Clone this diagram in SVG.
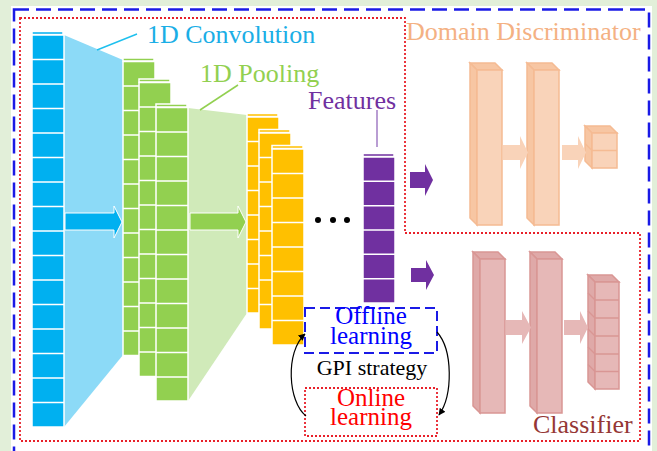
<svg xmlns="http://www.w3.org/2000/svg" width="657" height="451" viewBox="0 0 657 451">
<defs>
<style>
.lbl{font-family:"Liberation Serif","Times New Roman",serif;font-size:26px;font-variant-ligatures:none}
.lbl2{font-family:"Liberation Serif","Times New Roman",serif;font-size:25px;font-variant-ligatures:none}
.grid{stroke:#ffffff;stroke-width:1.6;fill:none}
.col{stroke:#ffffff;stroke-width:1.5}
.blue{fill:#00b0f0}
.green{fill:#92d050}
.orange{fill:#ffc000}
.purple{fill:#7030a0}
.peach{fill:#f9d3b9;stroke:#f5bb93;stroke-width:1.5}
.peach2{fill:#f7c6a3;stroke:#f5bb93;stroke-width:1.5}
.pink{fill:#e6b8b7;stroke:#d99694;stroke-width:1.5}
.pink2{fill:#dfa9a8;stroke:#d99694;stroke-width:1.5}
.reddot{fill:none;stroke:#e8202a;stroke-width:1.8;stroke-dasharray:2 2}
.curve{fill:none;stroke:#000;stroke-width:1.2}
</style>
<marker id="ah" viewBox="0 0 10 10" refX="9" refY="5" markerWidth="7" markerHeight="7" orient="auto" markerUnits="userSpaceOnUse">
<path d="M0,0 L10,5 L0,10 z" fill="#000"/>
</marker>
</defs>

<rect x="0" y="0" width="657" height="451" fill="#e2efd9"/>
<rect x="11" y="6" width="641" height="460" fill="#ffffff"/>
<rect id="outer-frame" x="14" y="9.5" width="635" height="460" fill="none" stroke="#1a1ae6" stroke-width="2.5" stroke-dasharray="15 7"/>
<path id="feature-region" class="reddot" d="M20,18 H405 V233 H640 V441 H20 Z"/>

<polygon id="conv-trap" points="64,35 123,60 123,355 64,427" fill="#8cdaf7"/>
<polygon id="pool-trap" points="188,108 247,115 247,313 188,401" fill="#d0eab9"/>

<g id="input-column">
<rect class="blue col" x="32" y="31.5" width="31" height="3"/>
<rect class="blue col" x="32" y="35" width="32" height="392"/>
<path class="grid" d="M32,59.5h32M32,84h32M32,108.5h32M32,133h32M32,157.5h32M32,182h32M32,206.5h32M32,231h32M32,255.5h32M32,280h32M32,304.5h32M32,329h32M32,353.5h32M32,378h32M32,402.5h32"/>
</g>

<g id="conv-maps">
<rect class="green col" x="123" y="58" width="31" height="3"/>
<rect class="green col" x="123" y="61.5" width="32" height="294"/>
<path class="grid" d="M123,86h32M123,110.5h32M123,135h32M123,159.5h32M123,184h32M123,208.5h32M123,233h32M123,257.5h32M123,282h32M123,306.5h32M123,331h32"/>
<rect class="green col" x="139" y="79" width="31" height="3"/>
<rect class="green col" x="139" y="82.5" width="32" height="294"/>
<path class="grid" d="M139,107h32M139,131.5h32M139,156h32M139,180.5h32M139,205h32M139,229.5h32M139,254h32M139,278.5h32M139,303h32M139,327.5h32M139,352h32"/>
<rect class="green col" x="156" y="104" width="31" height="3"/>
<rect class="green col" x="156" y="107.5" width="32" height="293.5"/>
<path class="grid" d="M156,132h32M156,156.5h32M156,181h32M156,205.5h32M156,230h32M156,254.5h32M156,279h32M156,303.5h32M156,328h32M156,352.5h32M156,377h32"/>
</g>

<g id="pool-maps">
<rect class="orange col" x="247" y="113.5" width="31" height="3"/>
<rect class="orange col" x="247" y="117" width="32" height="196"/>
<path class="grid" d="M247,141.5h32M247,166h32M247,190.5h32M247,215h32M247,239.5h32M247,264h32M247,288.5h32"/>
<rect class="orange col" x="259" y="129.5" width="31" height="3"/>
<rect class="orange col" x="259" y="133" width="32" height="196"/>
<path class="grid" d="M259,157.5h32M259,182h32M259,206.5h32M259,231h32M259,255.5h32M259,280h32M259,304.5h32"/>
<rect class="orange col" x="272" y="145.5" width="31" height="3"/>
<rect class="orange col" x="272" y="149" width="32" height="196"/>
<path class="grid" d="M272,173.5h32M272,198h32M272,222.5h32M272,247h32M272,271.5h32M272,296h32M272,320.5h32"/>
</g>

<g id="ellipsis">
<circle cx="318" cy="220" r="3" fill="#000"/>
<circle cx="333" cy="220" r="3" fill="#000"/>
<circle cx="347" cy="220" r="3" fill="#000"/>
</g>

<g id="features">
<rect class="purple col" x="363" y="153.5" width="31" height="3"/>
<rect class="purple col" x="363" y="157" width="32" height="146"/>
<path class="grid" d="M363,181.3h32M363,205.7h32M363,230h32M363,254.3h32M363,278.7h32"/>
</g>

<g id="domain-discriminator">
<polygon class="peach2" points="470,63 495,63 502,70 477,70"/>
<polygon class="peach2" points="470,63 477,70 477,225 470,218"/>
<rect class="peach" x="477" y="70" width="25" height="155"/>
<polygon class="peach2" points="527,63 552,63 559,70 534,70"/>
<polygon class="peach2" points="527,63 534,70 534,225 527,218"/>
<rect class="peach" x="534" y="70" width="25" height="155"/>
<polygon class="peach2" points="585,126 610,126 617,133 592,133"/>
<polygon class="peach2" points="585,126 592,133 592,168 585,161"/>
<rect class="peach" x="592" y="133" width="25" height="35"/>
<line x1="592" y1="150.5" x2="617" y2="150.5" stroke="#f5bb93" stroke-width="1.5"/>
<line x1="585" y1="143.5" x2="592" y2="150.5" stroke="#f5bb93" stroke-width="1.2"/>
</g>

<g id="classifier">
<polygon class="pink2" points="473,252 498,252 505,259 480,259"/>
<polygon class="pink2" points="473,252 480,259 480,413 473,406"/>
<rect class="pink" x="480" y="259" width="25" height="154"/>
<polygon class="pink2" points="530,252 555,252 562,259 537,259"/>
<polygon class="pink2" points="530,252 537,259 537,413 530,406"/>
<rect class="pink" x="537" y="259" width="25" height="154"/>
<polygon class="pink2" points="588,275 612,275 619,282 595,282"/>
<polygon class="pink2" points="588,275 595,282 595,389 588,382"/>
<rect class="pink" x="595" y="282" width="24" height="107"/>
<path d="M595,300h24M595,318h24M595,336h24M595,354h24M595,371.5h24M588,293l7,7M588,311l7,7M588,329l7,7M588,347l7,7M588,364.5l7,7" stroke="#d99694" stroke-width="1.4" fill="none"/>
</g>

<g id="offline-learning">
<rect x="305" y="308" width="132" height="45" fill="#ffffff" stroke="#1a1ae6" stroke-width="2" stroke-dasharray="10 5"/>
<text class="lbl2" x="371" y="324" text-anchor="middle" fill="#0000ff">Offline</text>
<text class="lbl2" x="371" y="344" text-anchor="middle" fill="#0000ff">learning</text>
</g>
<g id="online-learning">
<rect class="reddot" x="305" y="388" width="132" height="48" fill="#ffffff"/>
<text class="lbl2" x="371" y="406" text-anchor="middle" fill="#ff0000">Online</text>
<text class="lbl2" x="371" y="425" text-anchor="middle" fill="#ff0000">learning</text>
</g>

<g id="connectors">
<path d="M65,213 H114 V206 L122,222 L114,238 V230 H65 Z" fill="#00b0f0" stroke="#ffffff" stroke-width="1"/>
<path d="M190,213 H238 V206 L246,222 L238,238 V230 H190 Z" fill="#92d050" stroke="#ffffff" stroke-width="1"/>
<path d="M410,172 H425 V164 L433,180 L425,196 V188 H410 Z" fill="#7030a0"/>
<path d="M411,268 H426 V260 L434,275 L426,290 V282 H411 Z" fill="#7030a0"/>
<path d="M503,145 H520 V136 L528,152.5 L520,169 V160 H503 Z" fill="#f9d3b9"/>
<path d="M562,145 H578 V136 L586,152.5 L578,169 V160 H562 Z" fill="#f9d3b9"/>
<path d="M506,320 H522 V311 L531,327.5 L522,344 V335 H506 Z" fill="#e6b8b7"/>
<path d="M564,320 H580 V311 L588,327.5 L580,344 V335 H564 Z" fill="#e6b8b7"/>
<line x1="97" y1="50" x2="137" y2="34" stroke="#1ec0ee" stroke-width="1.5"/>
<line x1="200" y1="110" x2="238" y2="85" stroke="#92d050" stroke-width="1.5"/>
<line x1="377" y1="110" x2="377" y2="147" stroke="#a27cc4" stroke-width="1.5"/>
<path class="curve" d="M306,416 C288,402 285,352 305,334" marker-end="url(#ah)"/>
<path class="curve" d="M437,332 C453,350 453,395 439,415" marker-end="url(#ah)"/>
</g>

<text class="lbl" x="147" y="43" fill="#1aaee6">1D Convolution</text>
<text class="lbl" x="200" y="82" fill="#92d050">1D Pooling</text>
<text class="lbl" x="308" y="109" fill="#7030a0">Features</text>
<text class="lbl" x="406" y="40" fill="#f4b183">Domain Discriminator</text>
<text class="lbl" x="533" y="433" fill="#953735">Classifier</text>
<text x="372" y="375" text-anchor="middle" font-family="'Liberation Serif','Times New Roman',serif" font-size="22" fill="#000">GPI strategy</text>
</svg>
